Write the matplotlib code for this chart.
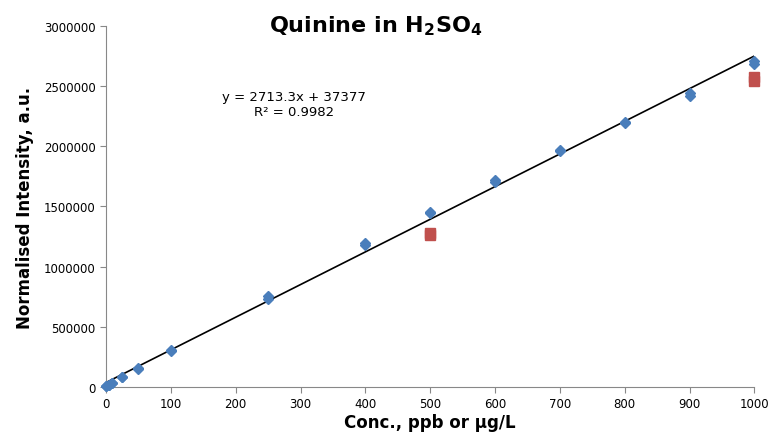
import matplotlib.pyplot as plt
import numpy as np

# blue series (replicates at each concentration)
conc = [0, 0, 5, 5, 10, 10, 25, 25, 50, 50, 100, 100, 250, 250, 400, 400,
        500, 500, 600, 600, 700, 700, 800, 800, 900, 900, 1000, 1000]
intensity = [5000, 8000, 15000, 20000, 30000, 35000, 80000, 85000, 150000, 155000,
             300000, 305000, 760000, 730000, 1200000, 1180000,
             1455000, 1445000, 1720000, 1705000, 1970000, 1960000, 2200000, 2195000,
             2445000, 2420000, 2705000, 2680000]

# red outliers
conc_out = [500, 500, 1000, 1000]
intensity_out = [1280000, 1265000, 2580000, 2545000]

slope = 2713.3
intercept = 37377

fig = plt.figure(figsize=(7.71, 4.35), dpi=100)
ax = fig.add_axes([0.1375, 0.108, 0.841, 0.83])

xfit = np.array([0, 1000])
ax.plot(xfit, slope * xfit + intercept, color='black', linewidth=1.2, zorder=2)
ax.plot(conc, intensity, linestyle='none', marker='D', markersize=5,
        color='#4a7ebb', zorder=3, clip_on=False)
ax.plot(conc_out, intensity_out, linestyle='none', marker='s', markersize=7,
        color='#c0504d', zorder=3, clip_on=False)

ax.set_xlim(0, 1000)
ax.set_ylim(0, 3000000)
ax.set_xticks(range(0, 1001, 100))
ax.set_yticks(range(0, 3000001, 500000))
ax.ticklabel_format(style='plain', axis='y')
ax.tick_params(labelsize=8.5, color='#888888', length=4)
for s in ['top', 'right']:
    ax.spines[s].set_visible(False)
for s in ['left', 'bottom']:
    ax.spines[s].set_color('#888888')

ax.text(290, 2350000, 'y = 2713.3x + 37377\nR² = 0.9982', ha='center',
        va='center', fontsize=9.5, linespacing=1.15)

fig.text(0.487, 0.94, r'Quinine in H$_\mathbf{2}$SO$_\mathbf{4}$', ha='center',
         va='center', fontsize=16, fontweight='bold')
ax.set_xlabel('Conc., ppb or µg/L', fontsize=12, fontweight='bold', labelpad=2)
ax.set_ylabel('Normalised Intensity, a.u.', fontsize=12, fontweight='bold', labelpad=7)

fig.savefig('out.png', dpi=100)
